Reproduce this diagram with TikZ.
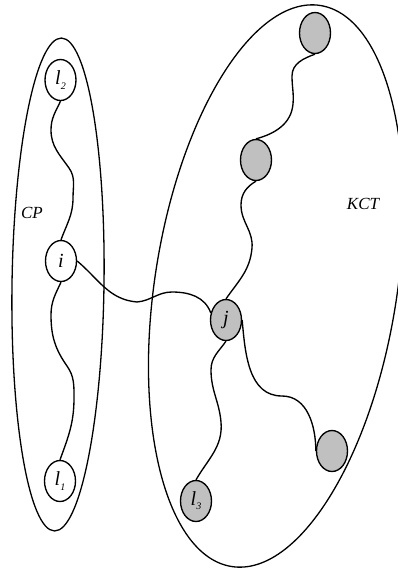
\documentclass[tikz,border=0pt]{standalone}
\usepackage{fontspec}
\setmainfont{Liberation Serif}
\usetikzlibrary{shapes.geometric}
\definecolor{leafgray}{RGB}{192,192,192}
% l with a lowered index
\newcommand\lidx[1]{\textit{l}\raisebox{-0.45ex}{\fontsize{10}{10}\selectfont #1}}
\tikzset{
  vertex/.style={ellipse, draw, line width=1.35pt, minimum width=31pt, minimum height=41pt,
                 inner sep=0pt, fill=white, font=\fontsize{20}{20}\selectfont\itshape},
  kvertex/.style={vertex, fill=leafgray},
  region/.style={draw, line width=1.3pt},
  link/.style={draw, line width=1.35pt},
  tag/.style={font=\fontsize{17}{17}\selectfont\itshape}
}
\begin{document}
\begin{tikzpicture}[x=1pt, y=1pt]
\useasboundingbox (0,0) rectangle (398,-571);
\clip (0,0) rectangle (398,-571);

% the two regions
\draw[region, rotate around={-0.8:(58,-284.5)}] (58,-284.5) ellipse [x radius=46, y radius=246.5];
\draw[region, rotate around={-9:(276,-286)}] (276,-286) ellipse [x radius=121, y radius=284];

\node[tag] (cp) at (32,-213) {CP};
\node[tag] (kct) at (363,-204) {KCT};

% vertices
\node[vertex] (l2) at (60.5,-80) {\lidx{2}};
\node[vertex] (i) at (61,-261) {i};
\node[vertex] (l1) at (60,-481) {\lidx{1}};
\node[kvertex] (t1) at (315,-33) {};
\node[kvertex] (t2) at (256,-160) {};
\node[kvertex] (j) at (226,-320) {j};
\node[kvertex] (r) at (332,-451) {};
\node[kvertex] (l3) at (196,-501) {\lidx{3}};

% wavy links
\draw[link] (l2.south) to[out=-115,in=90] (51,-130) to[out=-90,in=125] (69,-168)
  to[out=-55,in=90] (73,-198) to[out=-90,in=70] (i.north);
\draw[link] (i.south) to[out=-115,in=90] (51,-315) to[out=-90,in=125] (67,-366)
  to[out=-55,in=90] (74,-398) to[out=-90,in=70] (l1.north);
\draw[link] (i.east) to[out=-40,in=175] (137,-302) to[out=5,in=180] (172,-292)
  to[out=0,in=110] (j.155);
\draw[link] (j.north) to[out=55,in=-95] (252,-248) to[out=85,in=-90] (241,-205)
  to[out=90,in=-150] (t2.south);
\draw[link] (t2.north) to[out=15,in=-95] (293,-104) to[out=85,in=-90] (292,-76)
  to[out=90,in=-160] (t1.south);
\draw[link] (j.south) to[out=-125,in=90] (211,-370) to[out=-90,in=95] (221,-422)
  to[out=-85,in=60] (l3.north);
\draw[link] (j.east) to[out=-85,in=180] (282,-396) to[out=0,in=90] (r.west);
\end{tikzpicture}
\end{document}
